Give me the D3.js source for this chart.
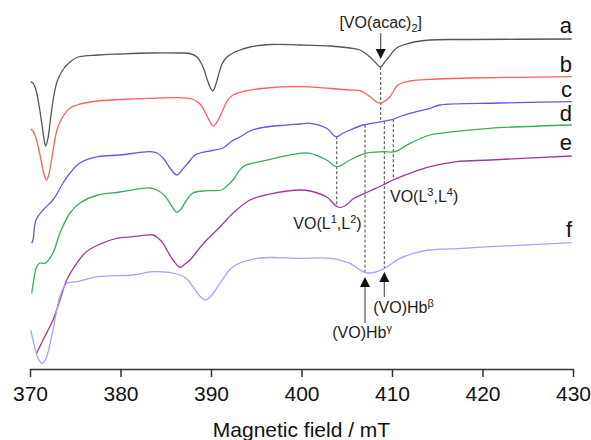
<!DOCTYPE html>
<html>
<head>
<meta charset="utf-8">
<script src="https://cdn.jsdelivr.net/npm/d3@7"></script>
<style>
  body { margin: 0; background: #fff; }
  svg { display: block; font-family: "Liberation Sans", Arial, sans-serif; }
</style>
</head>
<body>
<svg id="chart" width="591" height="440"></svg>
<script>
// EPR spectra, field in mT, intensity in arbitrary offset units
const fieldTicks = [370, 380, 390, 400, 410, 420, 430];

const traceA = [[370.08,286],[370.33,285],[370.66,278],[370.99,263],[371.33,243],[371.55,229],[371.73,222],[371.99,230],[372.32,253],[372.65,273],[372.98,286],[373.54,297],[374.42,306],[375.30,311],[377.51,313],[379.94,314],[383.26,315],[386.57,315],[387.68,314.5],[388.45,311],[389.12,301],[389.56,289],[389.89,281],[390.19,277],[390.44,281],[390.77,291],[391.22,304],[391.77,311],[392.65,316],[394.31,321],[396.52,323.5],[399.83,323],[403.15,322],[405.36,320],[406.46,318],[407.57,311],[408.23,305],[408.75,301],[409.12,305],[409.56,310],[410.52,320],[411.99,325],[414.20,328],[418.62,328.5],[429.86,329]];

const traceB = [[370.08,239],[370.33,237],[370.66,230],[370.99,218],[371.33,203],[371.60,192],[371.82,188],[372.04,192],[372.32,205],[372.65,223],[372.98,238],[373.54,250],[374.42,260],[375.52,264],[377.51,267],[381.05,269],[383.26,269.7],[386.57,270.3],[387.90,269],[388.78,264],[389.45,254],[389.89,246],[390.25,242],[390.66,246],[391.22,256],[391.77,267],[392.43,273],[393.76,277],[396.19,280],[399.83,281.3],[403.15,279.5],[405.36,278],[406.46,277.3],[407.57,271.3],[408.23,266.5],[408.67,264.7],[409.23,267],[409.78,271.3],[410.66,283],[411.99,287],[414.20,288.7],[418.62,290],[429.86,291.3]];

const traceC = [[370.19,124.7],[370.33,128],[370.66,148],[371.44,158],[372.54,168],[373.65,185],[374.42,195],[375.52,205],[377.51,211.3],[379.94,213],[383.26,216.3],[384.03,215],[384.70,210],[385.47,200],[386.21,193],[386.80,198],[387.46,205],[388.23,213],[388.78,215],[390.11,217.5],[391.33,220],[392.32,227],[393.20,231],[394.31,237],[395.41,240],[397.62,242.5],[399.83,244],[400.94,244.7],[402.78,239.7],[403.81,231.3],[404.59,235],[405.36,238],[406.80,243],[408.86,246.3],[410.11,248.7],[410.88,251.5],[411.99,254.7],[414.20,259.7],[415.30,263],[421.93,265],[429.86,266.3]];

const traceD = [[370.19,74.7],[370.30,81.3],[370.74,101.3],[371.10,105],[371.66,104.7],[372.54,115],[373.31,135],[374.42,155],[375.52,165],[377.51,173],[379.94,176],[383.26,180],[384.03,178],[384.92,172],[385.58,163],[386.21,155.7],[386.69,159],[387.24,167],[388.01,175],[389.56,177.3],[391.18,178],[391.88,183],[392.43,188],[393.54,201.3],[395.41,206.3],[399.83,214.7],[400.94,214.7],[402.78,208],[403.89,201.3],[405.36,208],[407.02,214.7],[409.04,216.3],[410.33,216.3],[411.99,224.7],[414.20,233],[415.30,234.7],[420.83,239.7],[429.86,243]];

const traceE = [[370.74,14.7],[371.44,28],[372.54,48],[373.31,68],[374.06,88],[375.16,104.7],[376.19,116],[377.51,123],[379.58,129.7],[381.38,131.3],[383.59,133],[384.14,130],[384.70,124.7],[385.25,116],[385.80,108],[386.57,100.7],[387.13,104],[387.68,108],[388.56,118],[389.52,128],[390.99,141],[392.43,154.7],[394.31,168],[396.85,174.7],[399.83,178],[400.94,177],[402.78,171],[404.03,161],[404.81,162],[405.69,169],[407.57,177],[409.01,183],[410.11,188],[411.99,194.7],[414.20,201.3],[417.15,206.3],[420.83,208],[429.86,212]];

const traceF = [[370.08,38],[370.33,28],[370.88,10],[371.29,4.7],[371.55,6],[371.85,11.3],[372.54,38],[373.31,71.3],[374.06,84.7],[375.16,86.3],[377.51,91.3],[381.38,93],[383.59,96.3],[386.57,93],[387.35,89],[388.01,81.3],[388.67,73],[389.34,68],[390.00,72],[390.99,84.7],[392.43,101.3],[395.19,109.7],[399.83,109.7],[403.15,109.7],[405.36,104.7],[407.02,95.3],[408.31,96.3],[409.23,99.7],[410.88,109.7],[413.09,116.3],[414.20,118],[417.85,119.7],[420.83,121.3],[429.86,125.3]];

const traces = [traceA, traceB, traceC, traceD, traceE, traceF];
const traceNames = ["a", "b", "c", "d", "e", "f"];
const traceColors = ["#555555", "#ff5f5f", "#5b5bea", "#3dab5a", "#9a3c98", "#a3a3ff"];
const labelLevels = [335, 296, 271, 247, 218, 131];

// dashed guide lines: field, from trace, to trace
const guideFields = [408.75, 403.9, 407.02, 409.15, 410.14];
const guideFrom = [0, 2, 2, 2, 2];
const guideTo = [2, 4, 5, 5, 4];

// arrows: field, tail, tip
const arrowFields = [408.75, 407.02, 409.15];
const arrowTails = [335, 45, 71];
const arrowTips = [309, 91, 96];

const svg = d3.select("#chart");

const x = d3.scaleLinear().domain([370, 430]).range([30, 573]);
const y = d3.scaleLinear().domain([0, 350]).range([368, 18]);

// value of a trace at a given field (linear between read points)
function valueAt(series, f) {
  const i = d3.bisector((d) => d[0]).left(series, f);
  if (i <= 0) return series[0][1];
  if (i >= series.length) return series[series.length - 1][1];
  const p = series[i - 1], q = series[i];
  return p[1] + (q[1] - p[1]) * (f - p[0]) / (q[0] - p[0]);
}

// x-axis
const xAxis = d3.axisBottom(x).tickValues(fieldTicks).tickFormat(d3.format("d"))
  .tickSizeInner(8).tickSizeOuter(0).tickPadding(9);
const gx = svg.append("g").attr("transform", "translate(0,369)").call(xAxis);
gx.select(".domain").attr("stroke", "#333").attr("stroke-width", 1.5);
gx.selectAll(".tick line").attr("stroke", "#333").attr("stroke-width", 1.5);
gx.selectAll(".tick text").attr("font-size", 21).attr("fill", "#111")
  .attr("font-family", "'Liberation Sans', Arial, sans-serif");

svg.append("text")
  .attr("x", (x(370) + x(430)) / 2)
  .attr("y", 437)
  .attr("text-anchor", "middle")
  .attr("font-size", 21)
  .attr("fill", "#111")
  .text("Magnetic field / mT");

// dashed guides
svg.append("g").selectAll("line")
  .data(guideFields)
  .join("line")
  .attr("x1", (d) => x(d))
  .attr("x2", (d) => x(d))
  .attr("y1", (d, i) => y(valueAt(traces[guideFrom[i]], d)))
  .attr("y2", (d, i) => y(valueAt(traces[guideTo[i]], d)))
  .attr("stroke", "#444")
  .attr("stroke-width", 1)
  .attr("stroke-dasharray", "3,2");

// spectra
const line = d3.line()
  .x((d) => x(d[0]))
  .y((d) => y(d[1]))
  .curve(d3.curveCatmullRom.alpha(0.5));

svg.append("g").selectAll("path")
  .data(traces)
  .join("path")
  .attr("d", line)
  .attr("fill", "none")
  .attr("stroke", (d, i) => traceColors[i])
  .attr("stroke-width", 1.3);

// trace letters
svg.append("g").selectAll("text")
  .data(traceNames)
  .join("text")
  .attr("x", x(429.9))
  .attr("y", (d, i) => y(labelLevels[i]))
  .attr("text-anchor", "end")
  .attr("font-size", 22)
  .attr("fill", "#111")
  .text((d) => d);

// arrows
const arrows = svg.append("g");
arrowFields.forEach((f, i) => {
  const ax = x(f), tail = y(arrowTails[i]), tip = y(arrowTips[i]);
  const dir = tip > tail ? 1 : -1;
  arrows.append("line")
    .attr("x1", ax).attr("x2", ax)
    .attr("y1", tail).attr("y2", tip - dir * 8)
    .attr("stroke", "#555").attr("stroke-width", 1.2);
  arrows.append("path")
    .attr("d", `M${ax},${tip} L${ax - 5},${tip - dir * 10} L${ax + 5},${tip - dir * 10} Z`)
    .attr("fill", "#111");
});

// annotation text with sub/superscripts
function note(field, level, anchor, parts) {
  const t = svg.append("text")
    .attr("x", x(field))
    .attr("y", y(level))
    .attr("text-anchor", anchor)
    .attr("font-size", 16)
    .attr("fill", "#222");
  let shift = 0;
  parts.forEach(([s, kind]) => {
    const target = kind === "sup" ? -6 : kind === "sub" ? 4 : 0;
    t.append("tspan")
      .attr("dy", target - shift)
      .attr("font-size", kind ? 11 : 16)
      .text(s);
    shift = target;
  });
}

note(408.75, 340, "middle", [["[VO(acac)"], ["2", "sub"], ["]"]]);
note(399.1, 139.5, "start", [["VO(L"], ["1", "sup"], [",L"], ["2", "sup"], [")"]]);
note(409.78, 166, "start", [["VO(L"], ["3", "sup"], [",L"], ["4", "sup"], [")"]]);
note(407.93, 55.3, "start", [["(VO)Hb"], ["\u03b2", "sup"]]);
note(403.4, 29.7, "start", [["(VO)Hb"], ["\u03b3", "sup"]]);
</script>
</body>
</html>
